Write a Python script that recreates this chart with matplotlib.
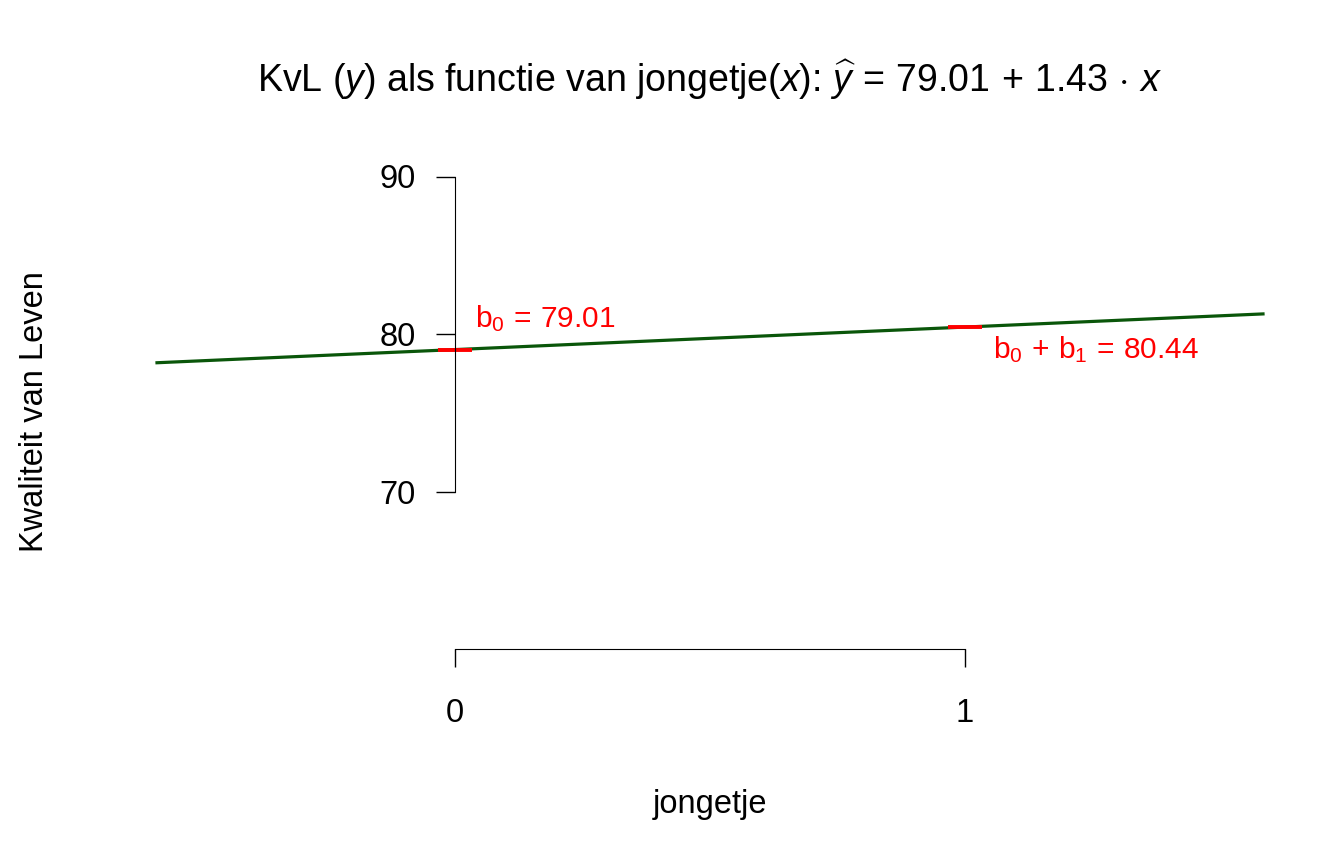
import matplotlib
matplotlib.use('Agg')
import matplotlib.pyplot as plt

# Regression coefficients and the fitted values at x = 0 and x = 1:
b0 = 79.01
b1 = 1.43
x_points = [0, 1]
y_points = [79.01, 80.44]
x_range = [-0.584, 1.584]
y_ticks = [70, 80, 90]
x_ticks = [0, 1]

plt.rcParams['font.family'] = 'Liberation Sans'
plt.rcParams['mathtext.fontset'] = 'custom'
plt.rcParams['mathtext.rm'] = 'Liberation Sans'
plt.rcParams['mathtext.it'] = 'Liberation Sans:italic'

fig = plt.figure(figsize=(13.44, 8.64), dpi=100)
ax = fig.add_axes([157 / 1344, 1 - 649 / 864, (1263 - 157) / 1344, (649 - 145) / 864])
ax.set_xlim(x_range)
ax.set_ylim(60, 92)

# Regression line over the whole x range:
ax.plot(x_range, [b0 + b1 * x for x in x_range], color='#0a560a', lw=2.3, clip_on=False)

# Short red marks at the fitted values:
for xp, yp in zip(x_points, y_points):
    ax.plot([xp - 0.033, xp + 0.033], [yp, yp], color='red', lw=2.8, solid_capstyle='butt')

ax.text(0.039, 81.0, r'$\mathrm{b_0\,=\,79.01}$', color='red', fontsize=21.5, va='center', ha='left')
ax.text(1.055, 78.98, r'$\mathrm{b_0\,+\,b_1\,=\,80.44}$', color='red', fontsize=21.5, va='center', ha='left')

# R-style axes:
for s in ['top', 'right']:
    ax.spines[s].set_visible(False)
ax.spines['left'].set_position(('data', 0))
ax.spines['left'].set_bounds(70, 90)
ax.spines['bottom'].set_position(('data', 60))
ax.spines['bottom'].set_bounds(0, 1)
ax.set_yticks(y_ticks)
ax.set_xticks(x_ticks)
ax.tick_params(axis='y', length=14, width=1, pad=14, labelsize=23.5)
ax.tick_params(axis='x', length=13, width=1, pad=22, labelsize=23.5)
ax.patch.set_visible(False)

fig.text(710 / 1344, 1 - 80 / 864,
         r'KvL ($y$) als functie van jongetje($x$): $\widehat{y}\,=\,79.01\,+\,1.43\,\cdot\,x$',
         ha='center', va='center', fontsize=27)
fig.text(710 / 1344, 1 - 805 / 864, 'jongetje', ha='center', va='center', fontsize=23.5)
fig.text(35 / 1344, 1 - 412 / 864, 'Kwaliteit van Leven', ha='center', va='center',
         rotation=90, fontsize=23.5)

fig.savefig('out.png', dpi=100)
